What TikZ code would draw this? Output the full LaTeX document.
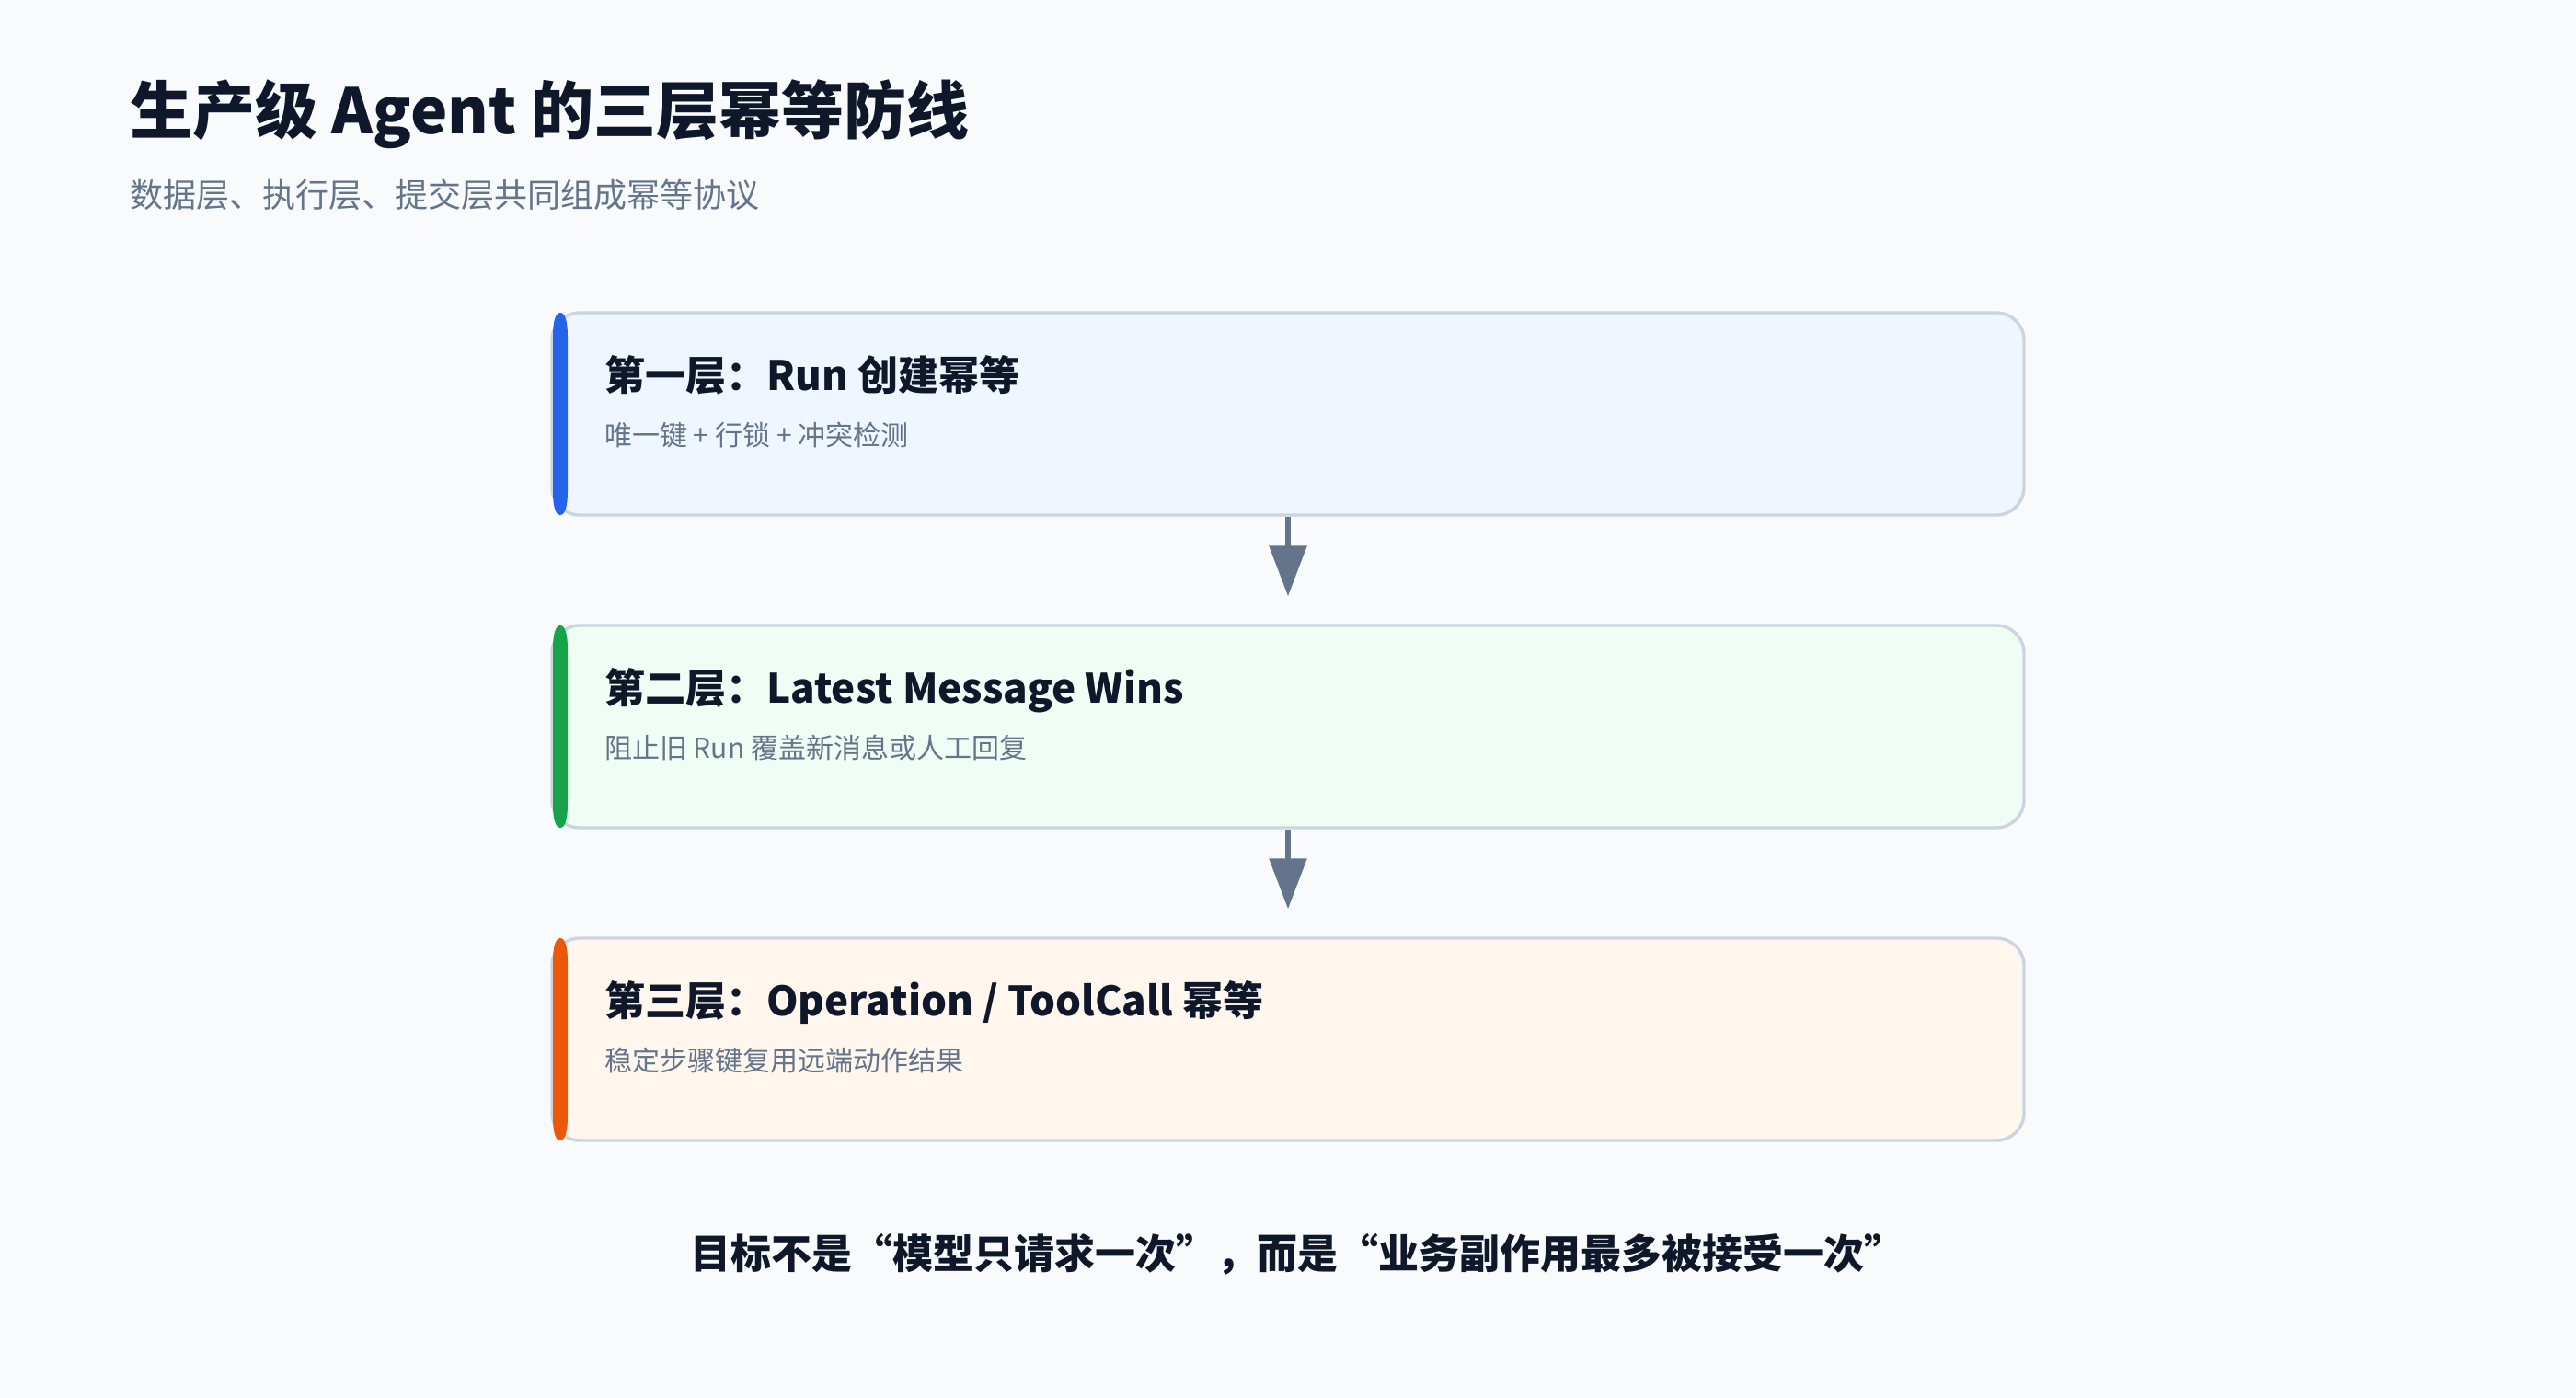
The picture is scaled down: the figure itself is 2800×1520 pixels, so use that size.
\documentclass[tikz,border=0pt]{standalone}
\usepackage{fontspec}
\setmainfont{Noto Sans CJK SC}
\usetikzlibrary{arrows.meta}
\definecolor{bgc}{HTML}{F8FAFC}
\definecolor{ink}{HTML}{0F172A}
\definecolor{muted}{HTML}{64748B}
\definecolor{edge}{HTML}{CBD5E1}
\definecolor{blueF}{HTML}{EFF6FF}
\definecolor{blueB}{HTML}{2563EB}
\definecolor{greenF}{HTML}{F0FDF4}
\definecolor{greenB}{HTML}{16A34A}
\definecolor{orangeF}{HTML}{FFF7ED}
\definecolor{orangeB}{HTML}{EA580C}
\tikzset{
  layerbox/.style={draw=edge, line width=3.4pt, rounded corners=30pt,
    minimum width=1600pt, minimum height=220pt, inner sep=0pt},
  layertitle/.style={anchor=base west, inner sep=0pt, text=ink,
    font=\fontsize{44pt}{52pt}\selectfont\bfseries},
  layersub/.style={anchor=base west, inner sep=0pt, text=muted,
    font=\fontsize{30pt}{36pt}\selectfont},
  flowarrow/.style={draw=muted, line width=6pt,
    -{Triangle[width=40pt,length=55pt]}, shorten >=30pt}
}
\newcommand{\accentbar}[3]{% color, top y, bottom y
  \fill[#1] (609,#2) .. controls (603,#2) and (601,#2+12) .. (601,#2+26)
    -- (601,#3-26) .. controls (601,#3-12) and (603,#3) .. (609,#3)
    .. controls (615,#3) and (617,#3-12) .. (617,#3-26)
    -- (617,#2+26) .. controls (617,#2+12) and (615,#2) .. (609,#2) -- cycle;}
\begin{document}
\begin{tikzpicture}[x=1pt,y=-1pt]
  \fill[bgc] (0,0) rectangle (2800,1520);
  \useasboundingbox (0,0) rectangle (2800,1520);

  \node[anchor=base west, inner sep=0pt, text=ink,
    font=\fontsize{68pt}{80pt}\selectfont\bfseries] (title) at (141,145)
    {生产级 Agent 的三层幂等防线};
  \node[anchor=base west, inner sep=0pt, text=muted,
    font=\fontsize{36pt}{42pt}\selectfont] (subtitle) at (141,225)
    {数据层、执行层、提交层共同组成幂等协议};

  \node[layerbox, fill=blueF] (b1) at (1400,450) {};
  \node[layerbox, fill=greenF] (b2) at (1400,790) {};
  \node[layerbox, fill=orangeF] (b3) at (1400,1130) {};

  \accentbar{blueB}{340}{560}
  \accentbar{greenB}{680}{900}
  \accentbar{orangeB}{1020}{1240}

  \node[layertitle] (t1) at (657,424) {第一层：Run 创建幂等};
  \node[layersub] (s1) at (657,484) {唯一键 + 行锁 + 冲突检测};
  \node[layertitle] (t2) at (657,764) {第二层：Latest Message Wins};
  \node[layersub] (s2) at (657,824) {阻止旧 Run 覆盖新消息或人工回复};
  \node[layertitle] (t3) at (657,1104) {第三层：Operation / ToolCall 幂等};
  \node[layersub] (s3) at (657,1164) {稳定步骤键复用远端动作结果};

  \draw[flowarrow] (b1.south) -- (b2.north);
  \draw[flowarrow] (b2.south) -- (b3.north);

  \node[anchor=base, inner sep=0pt, text=ink,
    font=\fontsize{44pt}{52pt}\selectfont\bfseries] (goal) at (1410,1379)
    {目标不是“模型只请求一次”，而是“业务副作用最多被接受一次”};
\end{tikzpicture}
\end{document}
